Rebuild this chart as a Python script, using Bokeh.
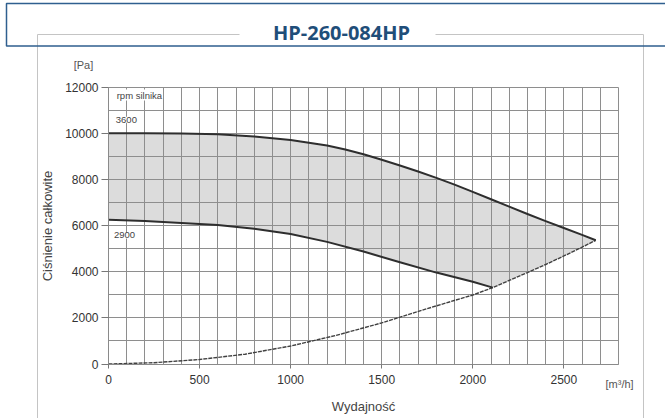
from bokeh.plotting import figure
from bokeh.models import SingleIntervalTicker, Label, BoxAnnotation, Range1d, Grid
from bokeh.embed import file_html
from bokeh.resources import INLINE
import numpy as np

# ---- data ----
flow_3600 = [0, 200, 400, 600, 800, 900, 1000, 1100, 1200, 1300, 1400, 1500, 1600, 1700,
             1800, 1900, 2000, 2100, 2200, 2300, 2400, 2500, 2600, 2675]
press_3600 = [10000, 10000, 9990, 9950, 9860, 9785, 9700, 9585, 9465, 9295, 9090, 8850, 8600, 8340,
              8065, 7770, 7455, 7135, 6815, 6500, 6190, 5890, 5595, 5360]

flow_2900 = [0, 200, 400, 600, 800, 1000, 1200, 1400, 1600, 1800, 2000, 2110]
press_2900 = [6250, 6190, 6110, 6020, 5860, 5630, 5290, 4870, 4410, 3960, 3560, 3310]

flow_sys = [0, 250, 500, 750, 1000, 1250, 1500, 1750, 2000, 2110, 2200, 2300, 2400, 2500, 2600, 2675]
press_sys = [0, 55, 195, 425, 780, 1240, 1780, 2400, 2990, 3310, 3620, 3960, 4310, 4680, 5060, 5360]

x_ticks = [0, 500, 1000, 1500, 2000, 2500]
y_ticks = [0, 2000, 4000, 6000, 8000, 10000, 12000]
x_max = 2800
y_max = 12000

title_text = "HP-260-084HP"
x_label = "Wydajność"
y_label = "Ciśnienie całkowite"
x_unit = "[m³/h]"
y_unit = "[Pa]"
rpm_title = "rpm silnika"
rpm_hi = "3600"
rpm_lo = "2900"

FONT = "Liberation Sans"

# ---- layout: the plot frame fills the whole canvas; the chart area sits inside it ----
W, H = 665, 418
PX_LEFT, PX_RIGHT = 108.0, 618.0      # pixel columns of x=0 and x=x_max
PX_BOTTOM, PX_TOP = 363.5, 86.5       # pixel rows of y=0 and y=y_max
sx = x_max / (PX_RIGHT - PX_LEFT)
sy = y_max / (PX_BOTTOM - PX_TOP)


def dx(px):
    return (px - PX_LEFT) * sx


def dy(py):
    return (PX_BOTTOM - py) * sy


p = figure(width=W, height=H, output_backend="svg", toolbar_location=None,
           x_range=Range1d(dx(0), dx(W)), y_range=Range1d(dy(H), dy(0)),
           min_border=0, min_border_left=0, min_border_right=0,
           min_border_top=0, min_border_bottom=0)
p.title.visible = False
p.background_fill_color = "white"
p.border_fill_color = "white"
p.outline_line_color = None

# grid (every 100 m3/h and 1000 Pa) limited to the chart area
grid_color = "#8e8e8e"
if "cross_bounds" in Grid.properties():
    p.xgrid.ticker = SingleIntervalTicker(interval=100)
    p.ygrid.ticker = SingleIntervalTicker(interval=1000)
    p.xgrid.bounds = (0, x_max)
    p.xgrid.cross_bounds = (0, y_max)
    p.ygrid.bounds = (0, y_max)
    p.ygrid.cross_bounds = (0, x_max)
    for g in (p.xgrid, p.ygrid):
        g.grid_line_color = grid_color
        g.grid_line_width = 1
        g.grid_line_alpha = 1.0
else:
    p.xgrid.visible = False
    p.ygrid.visible = False
    gx = np.arange(0, x_max + 1, 100)
    gy = np.arange(0, y_max + 1, 1000)
    p.segment(x0=gx, y0=np.zeros_like(gx), x1=gx, y1=np.full_like(gx, y_max),
              line_color=grid_color, line_width=1, level="underlay")
    p.segment(x0=np.zeros_like(gy), y0=gy, x1=np.full_like(gy, x_max), y1=gy,
              line_color=grid_color, line_width=1, level="underlay")

# axes fixed at the chart origin
p.xaxis.ticker = x_ticks
p.yaxis.ticker = y_ticks
p.xaxis.fixed_location = 0
p.yaxis.fixed_location = 0
p.xaxis.bounds = (0, x_max)
p.yaxis.bounds = (0, y_max)
for ax in (p.xaxis, p.yaxis):
    ax.axis_line_color = "#8a8a8a"
    ax.major_tick_line_color = "#777777"
    ax.minor_tick_line_color = None
    ax.major_label_text_font = FONT
    ax.major_label_text_font_size = "12px"
    ax.major_label_text_color = "#333333"
    ax.axis_label_text_font = FONT
    ax.axis_label_text_font_size = "13px"
    ax.axis_label_text_font_style = "normal"
    ax.axis_label_text_color = "#444444"
p.xaxis.major_tick_in = 0
p.xaxis.major_tick_out = 4
p.xaxis.major_label_standoff = 7
p.xaxis.axis_label = x_label
p.xaxis.axis_label_standoff = 11
p.yaxis.major_tick_in = 0
p.yaxis.major_tick_out = 7
p.yaxis.major_label_standoff = 3
p.yaxis.axis_label = y_label
p.yaxis.axis_label_standoff = 7

# shaded working area: 3600 curve, system curve back down, 2900 curve back
sys_back = [(x, y) for x, y in zip(flow_sys, press_sys) if x >= flow_2900[-1]][::-1]
poly_x = flow_3600 + [x for x, _ in sys_back] + flow_2900[::-1]
poly_y = press_3600 + [y for _, y in sys_back] + press_2900[::-1]
p.patch(poly_x, poly_y, fill_color="#dcdcdc", line_color=None, level="image")

p.line(flow_sys, press_sys, line_color="#404040", line_width=1.4, line_dash="4 1")
p.line(flow_3600, press_3600, line_color="#2e2e2e", line_width=2, line_join="round")
p.line(flow_2900, press_2900, line_color="#2e2e2e", line_width=2, line_join="round")

# rpm labels
for txt, x, y in [(rpm_title, 45, 11650), (rpm_hi, 40, 10580), (rpm_lo, 30, 5570)]:
    p.add_layout(Label(x=x, y=y, text=txt, text_font=FONT, text_font_size="9.5px",
                       text_color="#444444", text_baseline="middle", text_align="left",
                       background_fill_color="white", background_fill_alpha=1.0))

# unit labels
p.add_layout(Label(x=dx(83), y=dy(64), text=y_unit, text_font=FONT, text_font_size="11px",
                   text_color="#555555", text_align="center", text_baseline="middle"))
p.add_layout(Label(x=dx(605), y=dy(383), text=x_unit, text_font=FONT, text_font_size="11px",
                   text_color="#555555", text_align="left", text_baseline="middle"))

# decorative frames around the sheet
p.add_layout(BoxAnnotation(left=dx(37), right=dx(643), top=dy(34), bottom=dy(440),
                           fill_alpha=0, line_color="#c4c4c4", line_width=1, line_alpha=1))
p.add_layout(BoxAnnotation(left=dx(6), right=dx(720), top=dy(3), bottom=dy(45.5),
                           fill_alpha=0, line_color="#2f5f8f", line_width=1.5, line_alpha=1))
p.add_layout(BoxAnnotation(left=dx(239), right=dx(435), top=dy(30), bottom=dy(38),
                           fill_color="white", fill_alpha=1, line_color=None))
p.add_layout(Label(x=dx(341), y=dy(32), text=title_text,
                   text_font="Open Sans", text_font_style="bold", text_font_size="20px",
                   text_color="#1f4e79", text_align="center", text_baseline="middle"))

open("out.html", "w").write(file_html(p, INLINE))
